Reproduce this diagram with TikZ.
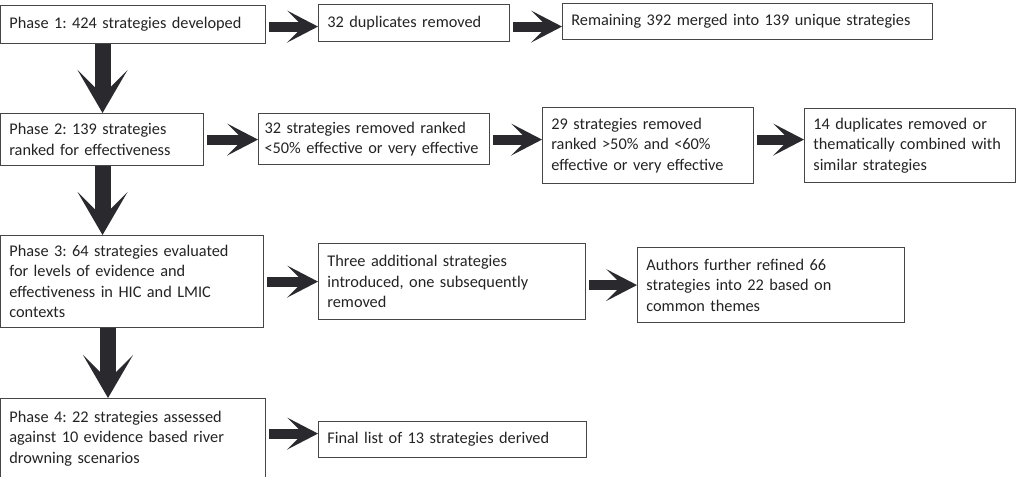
\documentclass[tikz,border=0pt]{standalone}
\usepackage{fontspec}
\setmainfont{Carlito}
\usetikzlibrary{arrows.meta}
\definecolor{arrowgray}{RGB}{42,42,46}
\definecolor{boxline}{RGB}{70,70,70}
\definecolor{textgray}{RGB}{35,35,35}

\begin{document}
\begin{tikzpicture}[x=0.025cm, y=-0.025cm,
  box/.style={draw=boxline, line width=0.8pt, anchor=north west, align=left,
    inner xsep=0.22cm, inner ysep=0pt, text=textgray,
    font=\fontsize{11.6pt}{14.6pt}\selectfont,
    execute at begin node={\frenchspacing\hyphenpenalty=10000}},
  harrow/.style={draw=arrowgray, line width=7.1pt, shorten <=0.075cm,
    -{Stealth[length=22pt, width=22.8pt, inset=11.4pt, line width=0pt]}},
  varrow/.style={draw=arrowgray, line width=11.4pt,
    -{Stealth[length=30.6pt, width=35.6pt, inset=17.8pt, line width=0pt]}}]
\clip (0,0) rectangle (1017,476);

% phase 1
\node[box, text width=6.185cm, minimum height=0.95cm] (p1) at (0,5) {Phase 1: 424 strategies developed};
\node[box, text width=4.335cm, minimum height=0.925cm] (dup) at (318,4) {32 duplicates removed};
\node[box, text width=8.81cm, minimum height=0.9cm] (rem) at (562,3) {Remaining 392 merged into 139 unique strategies};

% phase 2
\node[box, text width=4.635cm, minimum height=1.3cm] (p2) at (0,113) {Phase 2: 139 strategies\\ranked for effectiveness};
\node[box, inner xsep=0.15cm, text width=5.475cm, minimum height=1.275cm] (r32) at (258,113) {32 strategies removed ranked\\\mbox{<50\% effective or very effective}};
\node[box, text width=4.835cm, minimum height=1.9cm] (r29) at (542,107) {29 strategies removed\\ranked >50\% and <60\%\\effective or very effective};
\node[box, text width=4.835cm, minimum height=1.85cm] (r14) at (804,108) {14 duplicates removed or\\thematically combined with\\similar strategies};

% phase 3
\node[box, text width=6.135cm, minimum height=2.3cm] (p3) at (0,235) {Phase 3: 64 strategies evaluated\\for levels of evidence and\\effectiveness in HIC and LMIC\\contexts};
\node[box, text width=6.235cm, minimum height=1.9cm] (three) at (318,243) {Three additional strategies\\introduced, one subsequently\\removed};
\node[box, text width=6.235cm, minimum height=1.875cm] (auth) at (637,247) {Authors further refined 66\\strategies into 22 based on\\common themes};

% phase 4
\node[box, text width=6.185cm, minimum height=2cm] (p4) at (0,398) {Phase 4: 22 strategies assessed\\against 10 evidence based river\\drowning scenarios};
\node[box, text width=6.26cm, minimum height=0.9cm] (final) at (318,421) {Final list of 13 strategies derived};

% arrows across
\draw[harrow] ([yshift=-0.05cm]p1.east) -- ([yshift=-0.05cm]p1.east -| dup.west);
\draw[harrow] ([yshift=-0.05cm]p1.east -| dup.east) -- ([yshift=-0.05cm]p1.east -| rem.west);
\draw[harrow] (p2.east) -- (p2.east -| r32.west);
\draw[harrow] (p2.east -| r32.east) -- (p2.east -| r29.west);
\draw[harrow] (p2.east -| r29.east) -- (p2.east -| r14.west);
\draw[harrow] (p3.east) -- (p3.east -| three.west);
\draw[harrow] (auth.west -| three.east) -- (auth.west);
\draw[harrow] ([yshift=0.125cm]p4.east) -- ([yshift=0.125cm]p4.east -| final.west);

% arrows down
\draw[varrow] ([xshift=2.5625cm]p1.south west) -- ([xshift=2.5625cm]p2.north west);
\draw[varrow] ([xshift=2.5625cm]p2.south west) -- ([xshift=2.5625cm]p3.north west);
\draw[varrow] ([xshift=2.7cm]p3.south west) -- ([xshift=2.7cm]p4.north west);
\end{tikzpicture}
\end{document}
